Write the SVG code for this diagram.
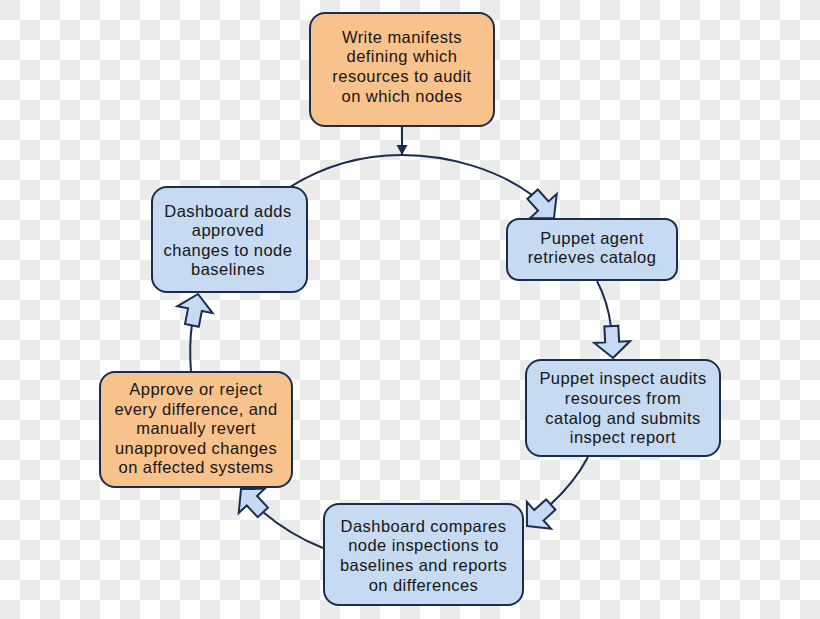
<svg xmlns="http://www.w3.org/2000/svg" width="820" height="619" viewBox="0 0 820 619">
  <defs>
    <pattern id="checker" x="0" y="0" width="40" height="40" patternUnits="userSpaceOnUse">
      <rect x="0" y="0" width="40" height="40" fill="#ffffff"/>
      <rect x="0" y="0" width="20" height="20" fill="#ebebeb"/>
      <rect x="20" y="20" width="20" height="20" fill="#ebebeb"/>
    </pattern>
    <marker id="smallArrow" markerWidth="10" markerHeight="12" refX="10" refY="6" orient="auto" markerUnits="userSpaceOnUse">
      <path d="M0,0.5 L10,6 L0,11.5 Z" fill="#1b2d4f"/>
    </marker>
    <polygon id="blockArrow" points="0,0 -16,-18 -16,-7 -32,-7 -32,7 -16,7 -16,18"/>
  </defs>
  <style>
    .box { stroke: #1b2d4f; stroke-width: 2; }
    .orange { fill: #f8c28c; }
    .blue { fill: #c6daf1; }
    .label { font-family: "Liberation Sans", Arial, sans-serif; font-size: 16.5px; letter-spacing: 0.45px; fill: #161616; text-anchor: middle; }
    .conn { fill: none; stroke: #1b2d4f; stroke-width: 2; }
    .barrow { fill: #c6daf1; stroke: #1b2d4f; stroke-width: 2; stroke-linejoin: miter; }
  </style>
  <rect x="0" y="0" width="820" height="619" fill="url(#checker)"/>

  <g id="connectors">
    <path class="conn" d="M402,126 L402,155" marker-end="url(#smallArrow)"/>
    <path class="conn" d="M290,187 C330,162 368,155 402,155 C450,155 498,170 532,195"/>
    <use href="#blockArrow" class="barrow" transform="translate(554,218) rotate(48)"/>
    <path class="conn" d="M597,281 Q608,302 611,327"/>
    <use href="#blockArrow" class="barrow" transform="translate(613,358) rotate(87)"/>
    <path class="conn" d="M588,457 Q575,482 550,505"/>
    <use href="#blockArrow" class="barrow" transform="translate(527,526) rotate(138)"/>
    <path class="conn" d="M323,548 Q290,535 263,512"/>
    <use href="#blockArrow" class="barrow" transform="translate(241,489) rotate(-133)"/>
    <path class="conn" d="M191,372 Q189,345 192,324"/>
    <use href="#blockArrow" class="barrow" transform="translate(198,294) rotate(-79)"/>
  </g>

  <g id="node-write-manifests">
    <rect class="box orange" x="310" y="13" width="184" height="113" rx="15" ry="15"/>
    <text class="label" x="402" y="42.5">Write manifests</text>
    <text class="label" x="402" y="62.3">defining which</text>
    <text class="label" x="402" y="82">resources to audit</text>
    <text class="label" x="402" y="101.8">on which nodes</text>
  </g>

  <g id="node-dashboard-adds">
    <rect class="box blue" x="152" y="187" width="155" height="105" rx="15" ry="15"/>
    <text class="label" x="228" y="216.5">Dashboard adds</text>
    <text class="label" x="228" y="236">approved</text>
    <text class="label" x="228" y="255.5">changes to node</text>
    <text class="label" x="228" y="275">baselines</text>
  </g>

  <g id="node-puppet-agent">
    <rect class="box blue" x="507" y="219" width="170" height="61" rx="12" ry="12"/>
    <text class="label" x="592" y="243.5">Puppet agent</text>
    <text class="label" x="592" y="263">retrieves catalog</text>
  </g>

  <g id="node-puppet-inspect">
    <rect class="box blue" x="526" y="360" width="194" height="96" rx="15" ry="15"/>
    <text class="label" x="623" y="384.3">Puppet inspect audits</text>
    <text class="label" x="623" y="404">resources from</text>
    <text class="label" x="623" y="423.7">catalog and submits</text>
    <text class="label" x="623" y="443.4">inspect report</text>
  </g>

  <g id="node-dashboard-compares">
    <rect class="box blue" x="324" y="504" width="199" height="101" rx="15" ry="15"/>
    <text class="label" x="423.5" y="531.7">Dashboard compares</text>
    <text class="label" x="423.5" y="551.3">node inspections to</text>
    <text class="label" x="423.5" y="570.9">baselines and reports</text>
    <text class="label" x="423.5" y="590.5">on differences</text>
  </g>

  <g id="node-approve-reject">
    <rect class="box orange" x="100" y="372" width="192" height="115" rx="15" ry="15"/>
    <text class="label" x="196" y="395">Approve or reject</text>
    <text class="label" x="196" y="414.6">every difference, and</text>
    <text class="label" x="196" y="434.2">manually revert</text>
    <text class="label" x="196" y="453.8">unapproved changes</text>
    <text class="label" x="196" y="473.4">on affected systems</text>
  </g>
</svg>
